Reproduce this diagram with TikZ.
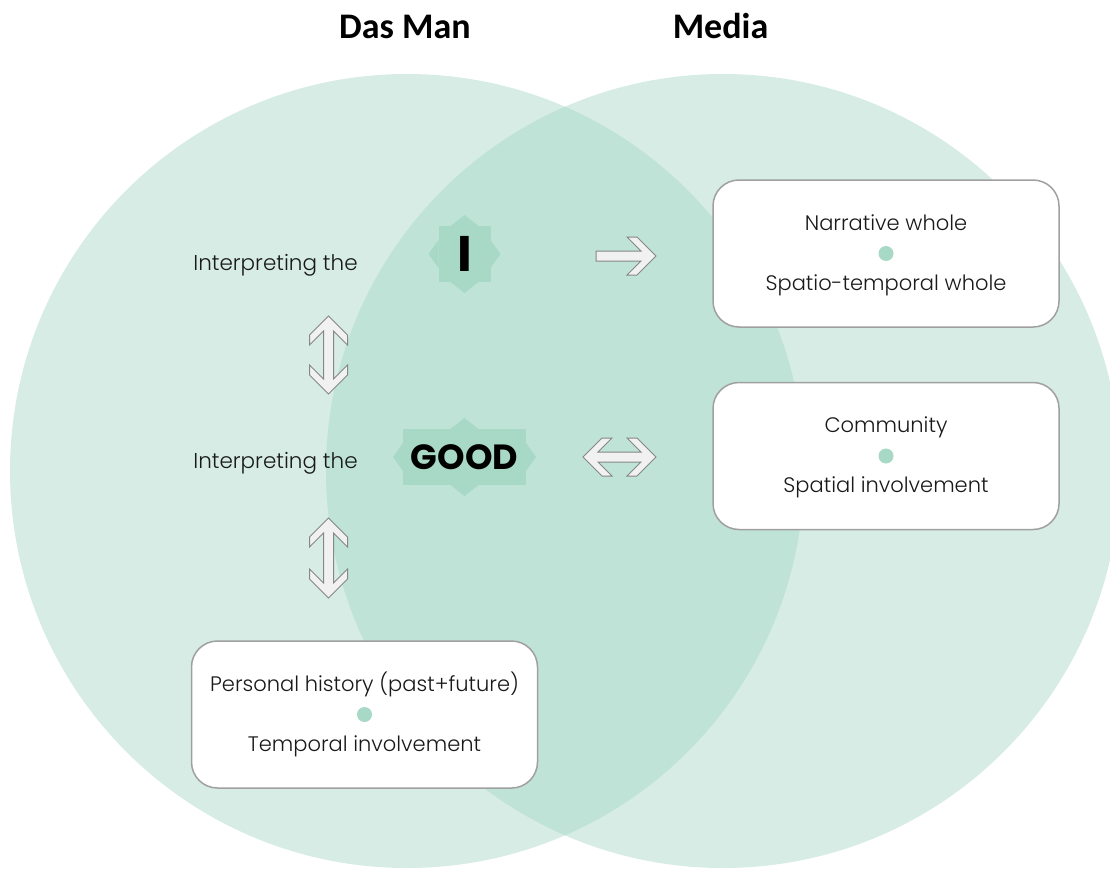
\documentclass[tikz,border=0pt]{standalone}
\usepackage{fontspec}
\setmainfont{Poppins}[UprightFont=* Light, BoldFont=* Bold]
\newfontfamily\titlefont{Carlito}
\usetikzlibrary{calc, positioning}
\definecolor{mint_light}{RGB}{214, 236, 229}
\definecolor{mint_mid}{RGB}{191, 227, 215}
\definecolor{mint_dark}{RGB}{168, 217, 199}
\definecolor{arrow_fill}{RGB}{241, 241, 241}
\definecolor{arrow_line}{RGB}{135, 135, 135}
\definecolor{box_line}{RGB}{160, 160, 160}

\begin{document}
\begin{tikzpicture}[
    x=1pt, y=-1pt,
    % Node styles
    title/.style={
        anchor=base,
        font=\titlefont\bfseries\fontsize{36}{40}\selectfont
    },
    badge/.style={
        rectangle,
        fill=mint_dark,
        inner sep=0pt, outer sep=0pt,
        minimum width=#1,
        minimum height=56pt,
        font=\bfseries\fontsize{35}{39}\selectfont
    },
    lead/.style={
        anchor=base,
        text=black!90,
        font=\fontsize{21.5}{25}\selectfont
    },
    infobox/.style={
        rectangle,
        draw=box_line,
        fill=white,
        line width=1.5pt,
        rounded corners=26pt,
        minimum width=346pt,
        minimum height=147pt
    },
    boxtext/.style={
        anchor=base,
        inner sep=0pt,
        text=black!90,
        font=\fontsize{21}{25}\selectfont
    },
    dot/.style={circle, fill=mint_dark, minimum size=15pt, inner sep=0pt},
    hollow/.style={fill=arrow_fill, draw=arrow_line, line width=1pt},
    % block arrows, #1 = half length
    pics/onearrow/.style={code={
        \filldraw[hollow] (-#1,5) -- (#1-15,5) -- (#1-29,19) -- (#1-19,19) -- (#1,0)
            -- (#1-19,-19) -- (#1-29,-19) -- (#1-15,-5) -- (-#1,-5) -- cycle;
    }},
    pics/twoarrow/.style={code={
        \filldraw[hollow] (-#1+15,5) -- (#1-15,5) -- (#1-29,19) -- (#1-19,19) -- (#1,0)
            -- (#1-19,-19) -- (#1-29,-19) -- (#1-15,-5) -- (-#1+15,-5) -- (-#1+29,-19)
            -- (-#1+19,-19) -- (-#1,0) -- (-#1+19,19) -- (-#1+29,19) -- cycle;
    }}
]

\useasboundingbox (0,0) rectangle (1110,875);

% the two circles
\coordinate (dasc) at (407,471);
\coordinate (mediac) at (723,471);
\fill[mint_light] (dasc) circle[radius=397pt];
\fill[mint_light] (mediac) circle[radius=397pt];
\begin{scope}
    \clip (dasc) circle[radius=397pt];
    \fill[mint_mid] (mediac) circle[radius=397pt];
\end{scope}

% titles
\node[title] (dasman) at (405,38) {Das Man};
\node[title] (media) at (720.5,38) {Media};

% badges
\node[badge=52pt, font=\bfseries\fontsize{50}{54}\selectfont] (selfI) at (464.5,254) {I};
\node[badge=123pt] (good) at (464.5,457) {GOOD};
\foreach \n in {selfI, good} {
    \fill[mint_dark] ($(\n.north)+(-14,0)$) -- ($(\n.north)+(0,-11)$) -- ($(\n.north)+(14,0)$) -- cycle;
    \fill[mint_dark] ($(\n.south)+(-14,0)$) -- ($(\n.south)+(0,11)$) -- ($(\n.south)+(14,0)$) -- cycle;
    \fill[mint_dark] ($(\n.east)+(0,-14)$) -- ($(\n.east)+(10,0)$) -- ($(\n.east)+(0,14)$) -- cycle;
    \fill[mint_dark] ($(\n.west)+(0,-14)$) -- ($(\n.west)+(-10,0)$) -- ($(\n.west)+(0,14)$) -- cycle;
}

\node[lead] (leadI) at (275.5,270) {Interpreting the};
\node[lead] (leadgood) at (275.5,468) {Interpreting the};

% info boxes
\node[infobox] (narrative) at (886,253.5) {};
\node[dot] (narrdot) at (narrative.center) {};
\node[boxtext] (narrtop) at ($(narrdot)+(0,-23.5)$) {Narrative whole};
\node[boxtext] (narrbot) at ($(narrdot)+(0,36.5)$) {Spatio-temporal whole};

\node[infobox] (community) at (886,456) {};
\node[dot] (commdot) at (community.center) {};
\node[boxtext] (commtop) at ($(commdot)+(0,-23.5)$) {Community};
\node[boxtext] (commbot) at ($(commdot)+(0,36.5)$) {Spatial involvement};

\node[infobox] (history) at (364.5,714.5) {};
\node[dot] (histdot) at (history.center) {};
\node[boxtext] (histtop) at ($(histdot)+(0,-23.5)$) {Personal history (past+future)};
\node[boxtext] (histbot) at ($(histdot)+(0,36.5)$) {Temporal involvement};

% arrows
\pic at (626,256) {onearrow=30};
\pic at (619.5,457) {twoarrow=36.5};
\pic[rotate=90] at (328.5,355) {twoarrow=39};
\pic[rotate=90] at (328.5,558) {twoarrow=40};

\end{tikzpicture}
\end{document}
